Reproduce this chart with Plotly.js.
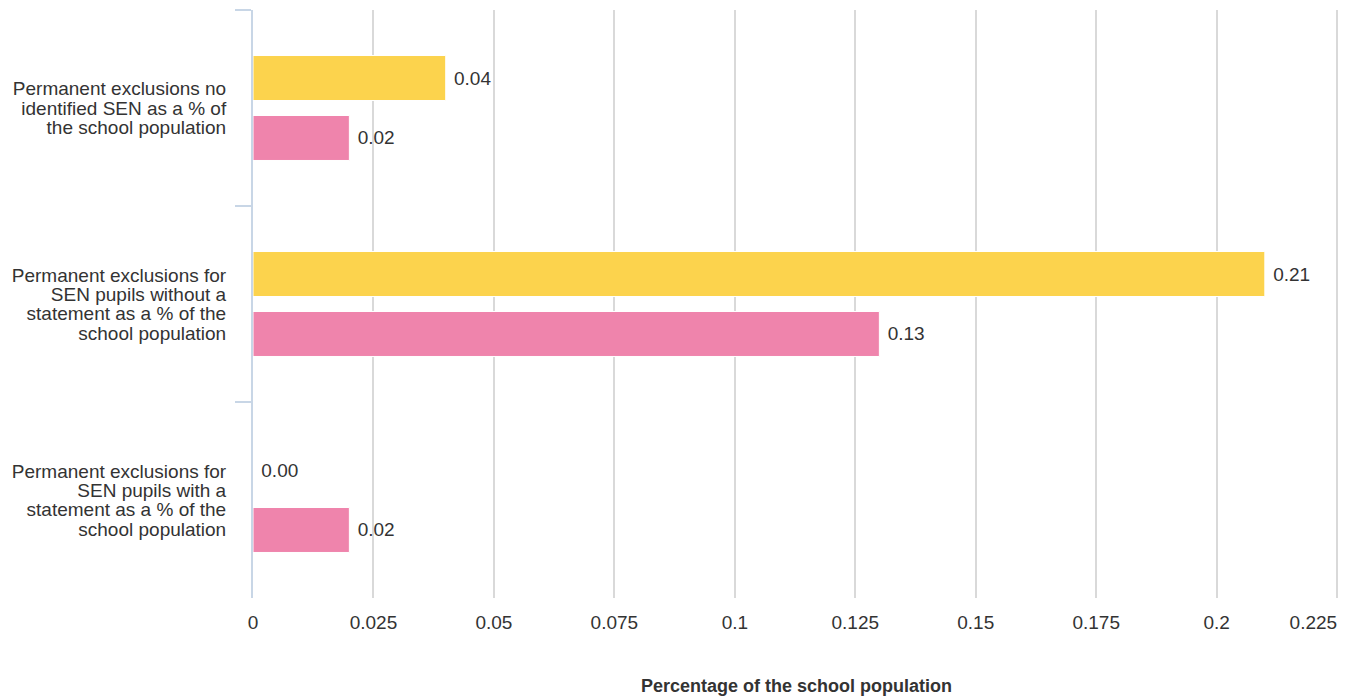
<!DOCTYPE html>
<html>
<head>
<meta charset="utf-8">
<script src="https://cdn.plot.ly/plotly-3.0.1.min.js"></script>
<style>
html,body{margin:0;padding:0;background:#fff;}
#chart{width:1346px;height:698px;}
</style>
</head>
<body>
<div id="chart"></div>
<script>
const categories = [
  "Permanent exclusions no<br>identified SEN as a % of<br>the school population",
  "Permanent exclusions for<br>SEN pupils without a<br>statement as a % of the<br>school population",
  "Permanent exclusions for<br>SEN pupils with a<br>statement as a % of the<br>school population"
];
const seriesAValues = [0.04, 0.21, 0.00];
const seriesBValues = [0.02, 0.13, 0.02];
const xTickValues = [0, 0.025, 0.05, 0.075, 0.1, 0.125, 0.15, 0.175, 0.2, 0.225];
const xTickLabels = ["0", "0.025", "0.05", "0.075", "0.1", "0.125", "0.15", "0.175", "0.2", "0.225"];

const FAMILY = "Liberation Sans, Arial, sans-serif";
const textFont = {family: FAMILY, size: 19, color: "#333333"};
const NB = "\u00a0";
const X_RANGE = [0, 0.2256];
const nT = xTickValues.length;

const traces = [
  {
    type: "bar", orientation: "h", y: categories, x: seriesAValues,
    name: "Series A",
    marker: {color: "#fcd34d", line: {color: "#ffffff", width: 1}},
    text: seriesAValues.map(v => NB + v.toFixed(2)), textposition: "outside",
    textfont: textFont, cliponaxis: false, hoverinfo: "x+y"
  },
  {
    type: "bar", orientation: "h", y: categories, x: seriesBValues,
    name: "Series B",
    marker: {color: "#ef84ac", line: {color: "#ffffff", width: 1}},
    text: seriesBValues.map(v => NB + v.toFixed(2)), textposition: "outside",
    textfont: textFont, cliponaxis: false, hoverinfo: "x+y"
  },
  // empty helper trace so the overlay axis (last tick label, right-aligned) is drawn
  {type: "scatter", mode: "markers", x: [], y: [], xaxis: "x2", yaxis: "y", hoverinfo: "skip", showlegend: false}
];

const layout = {
  width: 1346, height: 698,
  margin: {l: 253, r: 6, t: 10, b: 100},
  paper_bgcolor: "#ffffff", plot_bgcolor: "#ffffff",
  font: textFont,
  showlegend: false,
  barmode: "group",
  bargap: 0.388,
  bargroupgap: 0.25,
  xaxis: {
    range: X_RANGE,
    tickvals: xTickValues.slice(0, nT - 1), ticktext: xTickLabels.slice(0, nT - 1),
    ticklabelstandoff: 11,
    showgrid: true, gridcolor: "#d9d9d9", gridwidth: 2,
    zeroline: false, showline: false, ticks: "",
    tickfont: textFont,
    title: {text: "<b>Percentage of the school population</b>", font: {family: FAMILY, size: 18, color: "#333333"}, standoff: 47},
    automargin: false
  },
  xaxis2: {
    overlaying: "x", side: "bottom", anchor: "y",
    range: X_RANGE,
    tickvals: xTickValues.slice(nT - 1), ticktext: xTickLabels.slice(nT - 1),
    ticklabelposition: "outside left",
    ticklabelstandoff: 11,
    showgrid: true, gridcolor: "#d9d9d9", gridwidth: 2,
    zeroline: false, showline: false, ticks: "",
    tickfont: textFont,
    automargin: false
  },
  yaxis: {
    autorange: "reversed",
    type: "category",
    showline: true, linecolor: "#c8d6e6", linewidth: 2,
    ticks: "outside", tickson: "boundaries", ticklen: 16, tickcolor: "#c8d6e6", tickwidth: 2,
    ticklabelstandoff: 21,
    showgrid: false, zeroline: false,
    tickfont: textFont,
    automargin: false
  }
};

Plotly.newPlot("chart", traces, layout, {displayModeBar: false, staticPlot: true}).then(gd => {
  // tighten line spacing of the multi-line category labels
  const k = 0.78;
  gd.querySelectorAll(".yaxislayer-above .ytick text").forEach(t => {
    const b0 = t.getBBox();
    const c0 = b0.y + b0.height / 2;
    t.querySelectorAll("tspan.line").forEach(ts => {
      const dy = ts.getAttribute("dy");
      if (dy && /em$/.test(dy)) ts.setAttribute("dy", (parseFloat(dy) * k) + "em");
    });
    const b1 = t.getBBox();
    const c1 = b1.y + b1.height / 2;
    const tr = t.getAttribute("transform") || "";
    t.setAttribute("transform", tr + " translate(0," + (c0 - c1) + ")");
  });
});
</script>
</body>
</html>
